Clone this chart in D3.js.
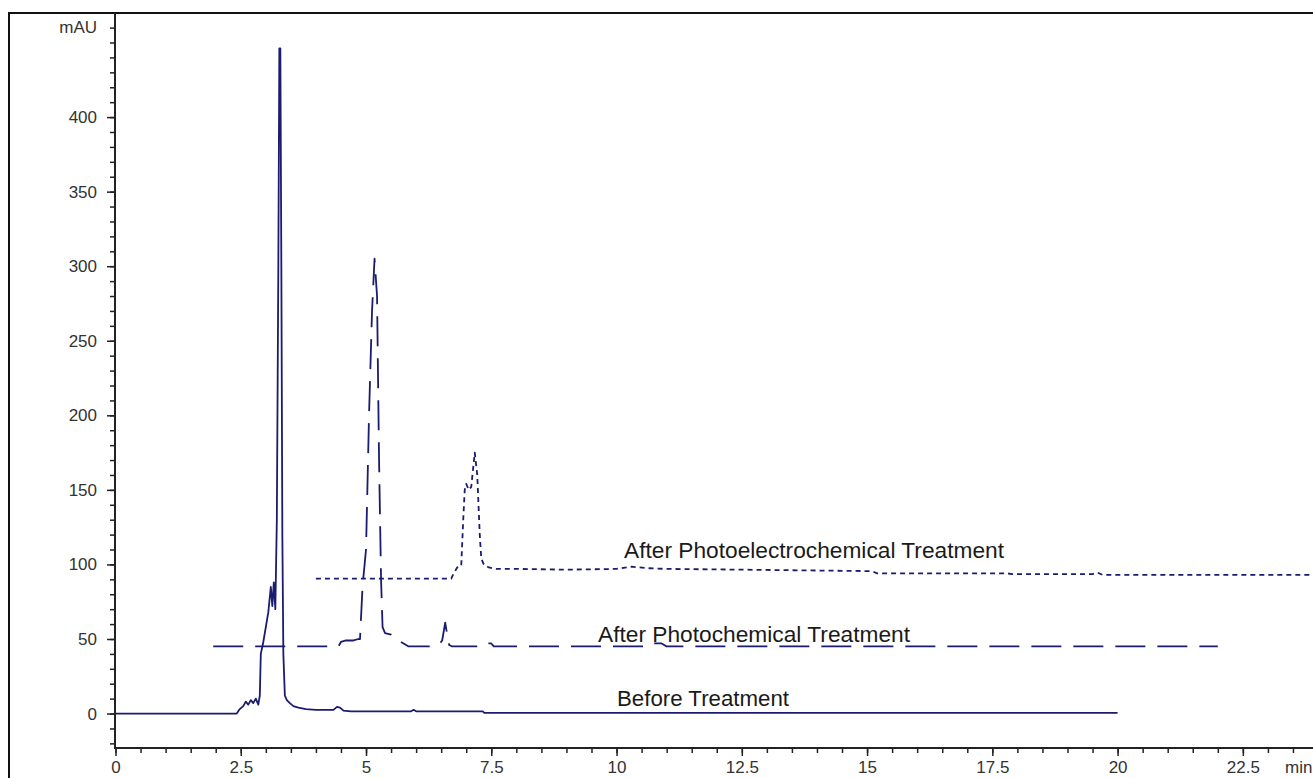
<!DOCTYPE html>
<html>
<head>
<meta charset="utf-8">
<script src="https://cdn.jsdelivr.net/npm/d3@7"></script>
<style>
  html, body { margin: 0; padding: 0; background: #ffffff; }
  svg { display: block; }
</style>
</head>
<body>
<svg id="chart" width="1313" height="778"></svg>
<script>
// Retention time (min) and absorbance (mAU) for the three chromatograms
const beforeTime  = [0, 2.42, 2.48, 2.55, 2.6, 2.65, 2.7, 2.75, 2.8, 2.85, 2.88, 2.9, 2.95, 3.0, 3.05, 3.1, 3.13, 3.16, 3.19, 3.22, 3.25, 3.27, 3.29, 3.31, 3.33, 3.35, 3.38, 3.42, 3.48, 3.55, 3.65, 3.8, 4.0, 4.35, 4.42, 4.48, 4.55, 4.7, 5.9, 5.95, 6.0, 6.5, 7.33, 7.36, 20];
const beforeValue = [0, 0, 3, 5, 8, 6, 9, 7, 10, 6, 12, 40, 48, 58, 68, 85, 72, 88, 70, 130, 300, 446, 446, 300, 120, 40, 12, 9, 7, 5, 4, 3, 2.5, 2.5, 4.5, 4, 2, 1.5, 1.5, 2.5, 1.5, 1.5, 1.5, 0.5, 0.5];

const photoTime  = [1.95, 4.45, 4.5, 4.6, 4.75, 4.85, 4.88, 4.93, 5.0, 5.06, 5.12, 5.17, 5.22, 5.26, 5.3, 5.33, 5.38, 5.5, 5.6, 5.75, 5.85, 6.3, 6.45, 6.52, 6.58, 6.62, 6.66, 6.72, 7.3, 7.4, 7.5, 7.55, 10.6, 10.7, 10.9, 11.0, 22.0];
const photoValue = [45, 45, 48, 49, 49, 50, 50, 85, 110, 200, 270, 305, 280, 170, 90, 58, 54, 53, 50, 47, 45, 45, 46, 49, 61, 53, 46, 45, 45, 47, 47, 45, 45, 47, 47, 45, 45];

const pecTime  = [4.0, 6.7, 6.75, 6.82, 6.9, 6.94, 6.97, 7.0, 7.05, 7.1, 7.17, 7.22, 7.27, 7.3, 7.35, 7.45, 7.6, 8.0, 9.0, 10.0, 10.3, 10.6, 11.0, 12.5, 15.1, 15.2, 17.8, 17.9, 19.5, 19.6, 19.7, 20.0, 23.9];
const pecValue = [90.5, 90.5, 94, 98, 99, 130, 150, 154, 150, 152, 175, 160, 120, 104, 100, 98, 97, 97, 96.5, 97, 98.5, 97.5, 97, 96.5, 95.5, 94, 94, 93.5, 93.5, 94.5, 93, 93, 93];

const seriesNames = ["Before Treatment", "After Photochemical Treatment", "After Photoelectrochemical Treatment"];

const xMajorTicks = [0, 2.5, 5, 7.5, 10, 12.5, 15, 17.5, 20, 22.5];
const xTickLabels = ["0", "2.5", "5", "7.5", "10", "12.5", "15", "17.5", "20", "22.5"];
const yMajorTicks = [0, 50, 100, 150, 200, 250, 300, 350, 400];
const yTickLabels = ["0", "50", "100", "150", "200", "250", "300", "350", "400"];

const svg = d3.select("#chart");
const lineColor = "#1b1b70";
const fontFamily = "'Liberation Sans', Arial, sans-serif";

const x = d3.scaleLinear().domain([0, 23.9]).range([115.5, 1313]);
const y = d3.scaleLinear().domain([-23.1, 469.8]).range([748, 13]);

// outer frame
svg.append("rect")
  .attr("x", 9).attr("y", 13)
  .attr("width", 1340).attr("height", 800)
  .attr("fill", "none").attr("stroke", "#111").attr("stroke-width", 2);

// y axis: minor ticks every 10 mAU
const yMinor = d3.range(-20, 461, 10);
svg.append("g")
  .attr("transform", "translate(115,0)")
  .call(d3.axisLeft(y).tickValues(yMinor).tickSize(5).tickFormat(""))
  .call(g => g.select(".domain").remove())
  .call(g => g.selectAll("line").attr("stroke", "#222").attr("stroke-width", 1.5));

const yAxis = svg.append("g")
  .attr("transform", "translate(115,0)")
  .call(d3.axisLeft(y).tickValues(yMajorTicks).tickSize(8).tickPadding(10)
    .tickFormat((d, i) => yTickLabels[i]));
yAxis.select(".domain").remove();
yAxis.selectAll("line").attr("stroke", "#222").attr("stroke-width", 1.5);
yAxis.selectAll("text").attr("font-family", fontFamily).attr("font-size", 17).attr("fill", "#333");

// x axis: minor ticks every 0.5 min
const xMinor = d3.range(0, 23.9, 0.5);
svg.append("g")
  .attr("transform", "translate(0,748)")
  .call(d3.axisBottom(x).tickValues(xMinor).tickSize(5).tickFormat(""))
  .call(g => g.select(".domain").remove())
  .call(g => g.selectAll("line").attr("stroke", "#222").attr("stroke-width", 1.5));

const xAxis = svg.append("g")
  .attr("transform", "translate(0,748)")
  .call(d3.axisBottom(x).tickValues(xMajorTicks).tickSize(8).tickPadding(5)
    .tickFormat((d, i) => xTickLabels[i]));
xAxis.select(".domain").remove();
xAxis.selectAll("line").attr("stroke", "#222").attr("stroke-width", 1.5);
xAxis.selectAll("text").attr("font-family", fontFamily).attr("font-size", 17).attr("fill", "#333");

// axis lines
svg.append("line").attr("x1", 115).attr("x2", 115).attr("y1", 13).attr("y2", 749)
  .attr("stroke", "#222").attr("stroke-width", 2);
svg.append("line").attr("x1", 114).attr("x2", 1313).attr("y1", 748).attr("y2", 748)
  .attr("stroke", "#222").attr("stroke-width", 2);

// unit labels
svg.append("text").attr("x", 97).attr("y", 33).attr("text-anchor", "end")
  .attr("font-family", fontFamily).attr("font-size", 17).attr("fill", "#333").text("mAU");
svg.append("text").attr("x", 1285).attr("y", 773)
  .attr("font-family", fontFamily).attr("font-size", 17).attr("fill", "#333").text("min");

// chromatogram traces
const line = d3.line().x(d => x(d[0])).y(d => y(d[1]));
const traces = [
  { t: beforeTime, v: beforeValue, dash: null },
  { t: photoTime, v: photoValue, dash: "30,12" },
  { t: pecTime, v: pecValue, dash: "5,4" }
];
svg.append("defs").append("clipPath").attr("id", "plotClip")
  .append("rect").attr("x", 115).attr("y", 13).attr("width", 1200).attr("height", 735);

const plot = svg.append("g").attr("clip-path", "url(#plotClip)");
traces.forEach(tr => {
  const pts = tr.t.map((t, i) => [t, tr.v[i]]);
  plot.append("path")
    .datum(pts)
    .attr("d", line)
    .attr("fill", "none")
    .attr("stroke", lineColor)
    .attr("stroke-width", 1.8)
    .attr("stroke-linejoin", "round")
    .attr("stroke-dasharray", tr.dash);
});

// trace labels
const labelSpecs = [
  { text: seriesNames[0], x: 617, y: 706, len: 172 },
  { text: seriesNames[1], x: 598, y: 642, len: 312 },
  { text: seriesNames[2], x: 624, y: 558, len: 380 }
];
labelSpecs.forEach(s => {
  svg.append("text")
    .attr("x", s.x).attr("y", s.y)
    .attr("font-family", fontFamily).attr("font-size", 22)
    .attr("textLength", s.len).attr("lengthAdjust", "spacingAndGlyphs")
    .attr("fill", "#1a1a1a")
    .text(s.text);
});
</script>
</body>
</html>
